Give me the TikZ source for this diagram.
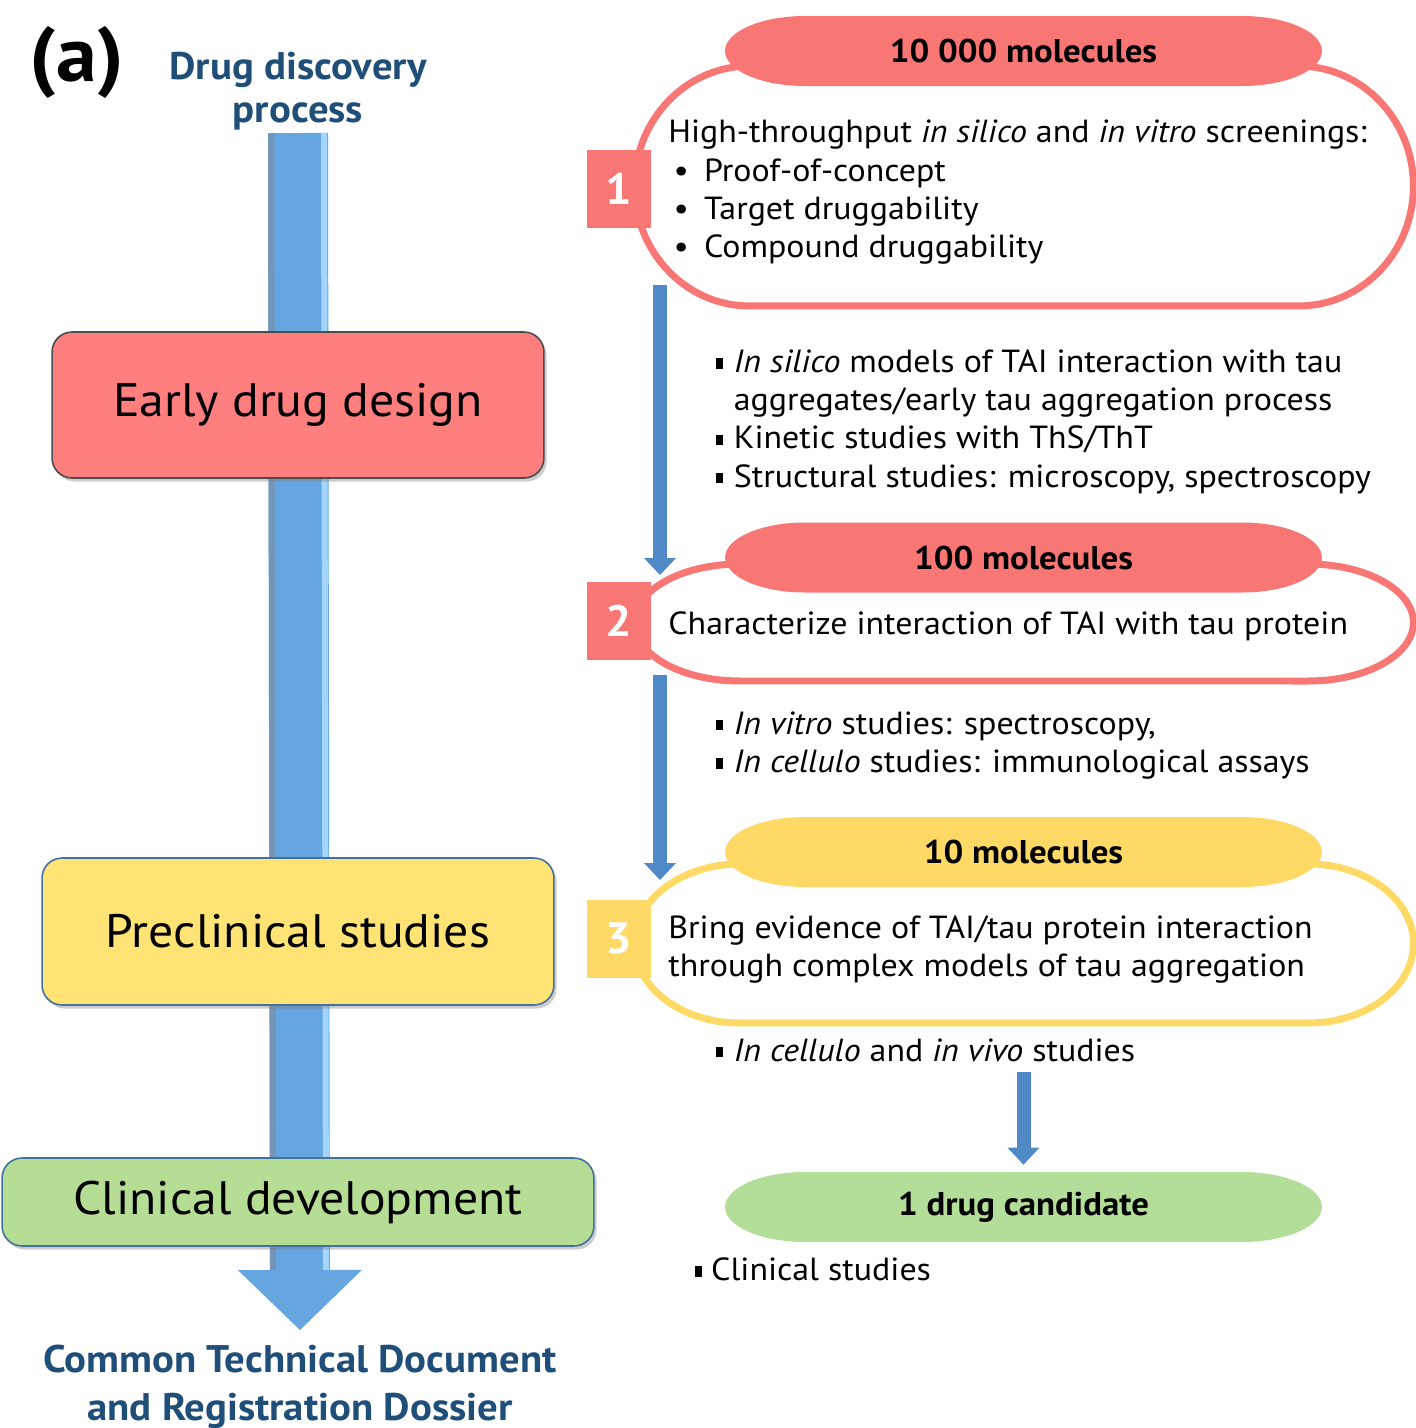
\documentclass[tikz,border=0pt]{standalone}
\usepackage{fontspec}
\setmainfont{PT Sans}[FakeStretch=1.06]
\usetikzlibrary{arrows.meta,positioning,shadows}

\definecolor{salmon}{HTML}{FF7F7F}
\definecolor{coral}{HTML}{F87774}
\definecolor{lemon}{HTML}{FFE375}
\definecolor{gold}{HTML}{FFD966}
\definecolor{leaf}{HTML}{B5DD94}
\definecolor{mint}{HTML}{B3DE99}
\definecolor{navy}{HTML}{1F4E79}
\definecolor{flowblue}{HTML}{65A6E0}
\definecolor{flowmid}{HTML}{4F89C6}
\definecolor{flowdark}{HTML}{35679A}
\definecolor{flowlight}{HTML}{A3D6FF}
\definecolor{frameblue}{HTML}{41719C}

\begin{document}
\begin{tikzpicture}[
  x=0.02cm, y=-0.02cm,
  stage/.style={draw=#1, line width=0.9pt, rounded corners=0.4cm, inner sep=0pt,
    font=\fontsize{26.7}{30}\selectfont,
    drop shadow={shadow xshift=1.5pt, shadow yshift=-2pt, opacity=0.4}},
  pill/.style={minimum width=11.94cm, minimum height=1.4cm, inner sep=0pt,
    font=\bfseries\fontsize{18.7}{22}\selectfont,
    path picture={\fill[#1] ([xshift=1.6cm]path picture bounding box.north west)
      -- ([xshift=-1.6cm]path picture bounding box.north east)
      arc[start angle=90, end angle=-90, x radius=1.6cm, y radius=0.7cm]
      -- ([xshift=1.6cm]path picture bounding box.south west)
      arc[start angle=270, end angle=90, x radius=1.6cm, y radius=0.7cm] -- cycle;}},
  ring/.style n args={3}{minimum width=15.72cm, inner sep=0pt,
    path picture={\draw[#1, line width=0.14cm]
      ([xshift=#3+0.07cm, yshift=-0.07cm]path picture bounding box.north west)
      -- ([xshift=-#3-0.07cm, yshift=-0.07cm]path picture bounding box.north east)
      arc[start angle=90, end angle=-90, x radius=#3, y radius=#2]
      -- ([xshift=#3+0.07cm, yshift=0.07cm]path picture bounding box.south west)
      arc[start angle=270, end angle=90, x radius=#3, y radius=#2] -- cycle;}},
  num/.style={fill=#1, minimum width=1.28cm, minimum height=1.56cm, inner sep=0pt,
    text=white, font=\bfseries\fontsize{25}{28}\selectfont},
  body/.style={anchor=north west, align=left, inner sep=0pt,
    font=\fontsize{18.2}{21.8}\selectfont},
  heading/.style={text=navy, align=center, font=\bfseries\fontsize{21.9}{25}\selectfont},
  bigarr/.style={draw=flowblue, line width=1.2cm,
    -{Triangle[length=1.2cm, width=2.48cm, line width=0pt]}},
  bevel/.style={draw=#1, line width=0.12cm},
  smallarr/.style={draw=flowmid, line width=0.28cm,
    -{Triangle[length=0.34cm, width=0.64cm, line width=0pt]}}
]
\useasboundingbox (0,0) rectangle (1416,1428);

% left column: the process
\node[font=\bfseries\fontsize{44}{48}\selectfont] (tag) at (77,62) {(a)};
\node[heading, anchor=south, inner ysep=0.04cm] (title) at (298,133) {Drug discovery\\process};
\node[heading, anchor=north, inner ysep=0.3cm, font=\bfseries\fontsize{21.9}{27}\selectfont]
  (ctd) at (300,1330) {Common Technical Document\\and Registration Dossier};

\draw[bigarr] (title.south) -- (ctd.north);
\draw[bevel=flowdark!70] ([xshift=-0.54cm]title.south) -- ([xshift=-0.54cm,yshift=1.2cm]ctd.north);
\draw[bevel=flowlight] ([xshift=0.52cm]title.south) -- ([xshift=0.52cm,yshift=1.2cm]ctd.north);

\node[stage=gray!60!black, fill=salmon, minimum width=9.84cm, minimum height=2.92cm]
  (early) at (298,405) {Early drug design};
\node[stage=frameblue, fill=lemon, minimum width=10.24cm, minimum height=2.94cm]
  (precl) at (298,931.5) {Preclinical studies};
\node[stage=frameblue, fill=leaf, minimum width=11.84cm, minimum height=1.76cm]
  (clin) at (298,1202) {Clinical development};

% right column: the screening funnel
\node[ring={coral}{2.4cm}{2.3cm}, minimum height=4.94cm] (box1) at (1024,186) {};
\node[ring={coral}{1.17cm}{2.1cm}, minimum height=2.48cm] (box2) at (1024,622.5) {};
\node[ring={gold}{1.59cm}{2.1cm}, minimum height=3.32cm] (box3) at (1024,943.5) {};

\node[pill=coral] (mol1) at (1023.5,51) {10 000 molecules};
\node[pill=coral] (mol2) at (1023.5,557.5) {100 molecules};
\node[pill=gold] (mol3) at (1023.5,852) {10 molecules};
\node[pill=mint] (cand) at (1023.5,1207) {1 drug candidate};

\node[num=coral] (n1) at (619,189) {1};
\node[num=coral] (n2) at (619,620.5) {2};
\node[num=gold] (n3) at (619,938.5) {3};

\node[body] (screen) at (668,120) {High-throughput \textit{in silico} and \textit{in vitro} screenings:\\
  \makebox[20.4pt][l]{\hspace{3pt}\textbullet}Proof-of-concept\\
  \makebox[20.4pt][l]{\hspace{3pt}\textbullet}Target druggability\\
  \makebox[20.4pt][l]{\hspace{3pt}\textbullet}Compound druggability};
\node[body] (silico) at (716,349) {\makebox[10pt][l]{\rule[2pt]{3.8pt}{6pt}}\textit{In silico} models of TAI interaction with tau\\
  \hspace*{10pt}aggregates/early tau aggregation process\\
  \makebox[10pt][l]{\rule[2pt]{3.8pt}{6pt}}Kinetic studies with ThS/ThT\\
  \makebox[10pt][l]{\rule[2pt]{3.8pt}{6pt}}Structural studies: microscopy, spectroscopy};
\node[body] (charac) at (668,611) {Characterize interaction of TAI with tau protein};
\node[body] (vitro) at (716,711) {\makebox[10pt][l]{\rule[2pt]{3.8pt}{6pt}}\textit{In vitro} studies: spectroscopy,\\
  \makebox[10pt][l]{\rule[2pt]{3.8pt}{6pt}}\textit{In cellulo} studies: immunological assays};
\node[body] (bring) at (668,915) {Bring evidence of TAI/tau protein interaction\\
  through complex models of tau aggregation};
\node[body] (vivo) at (716,1038) {\makebox[10pt][l]{\rule[2pt]{3.8pt}{6pt}}\textit{In cellulo} and \textit{in vivo} studies};
\node[body] (clinst) at (695,1257) {\makebox[9pt][l]{\rule[2pt]{3.8pt}{6pt}}Clinical studies};

\coordinate (s1a) at (660,285);
\coordinate (s1b) at (660,575);
\coordinate (s2a) at (660,675);
\coordinate (s2b) at (660,880);
\draw[smallarr] (s1a) -- (s1b);
\draw[smallarr] (s2a) -- (s2b);
\draw[smallarr, shorten <=0.2cm, shorten >=0.14cm] (cand.north |- vivo.south) -- (cand.north);
\end{tikzpicture}
\end{document}
